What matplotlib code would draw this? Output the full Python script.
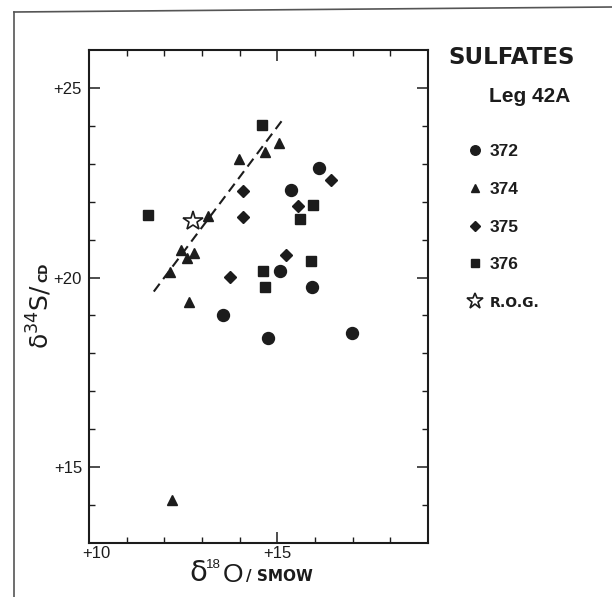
import matplotlib
matplotlib.use("Agg")
import matplotlib.pyplot as plt
from matplotlib.lines import Line2D
from matplotlib.transforms import ScaledTranslation

# valeurs (delta 18O, delta 34S)
site372_x = [16.11, 15.36, 15.06, 15.92, 13.57, 14.76, 16.99]
site372_y = [22.88, 22.30, 20.17, 19.76, 19.00, 18.40, 18.53]

site374_x = [15.04, 14.66, 13.98, 13.15, 12.45, 12.59, 12.80, 12.16, 12.66, 12.20]
site374_y = [23.56, 23.32, 23.12, 21.63, 20.73, 20.51, 20.66, 20.14, 19.35, 14.13]

site375_x = [14.09, 14.09, 16.42, 15.55, 15.23, 13.75]
site375_y = [22.27, 21.59, 22.57, 21.88, 20.60, 20.01]

site376_x = [14.58, 11.57, 15.94, 15.61, 15.90, 14.63, 14.66]
site376_y = [24.03, 21.65, 21.90, 21.55, 20.44, 20.17, 19.74]

rog_x = [12.75]
rog_y = [21.50]

trend_x = [11.72, 15.17]
trend_y = [19.63, 24.20]

labels = ["372", "374", "375", "376", "R.O.G."]
ink = "#1c1c1c"

plt.rcParams['font.family'] = ['Liberation Sans', 'DejaVu Sans']
plt.rcParams['mathtext.default'] = 'regular'

fig = plt.figure(figsize=(6.12, 5.97), dpi=100)
ax = fig.add_axes([89/612, 1-543/597, (428-89)/612, (543-50)/597])

ax.plot(trend_x, trend_y, color=ink, lw=1.5, linestyle=(0, (4.7, 2.8)))
h1, = ax.plot(site372_x, site372_y, 'o', color=ink, ms=8.6, ls='none')
h2, = ax.plot(site374_x, site374_y, '^', color=ink, ms=7.8, ls='none')
h3, = ax.plot(site375_x, site375_y, 'D', color=ink, ms=6.6, ls='none')
h4, = ax.plot(site376_x, site376_y, 's', color=ink, ms=6.8, ls='none')
h5, = ax.plot(rog_x, rog_y, '*', mfc='white', mec=ink, mew=1.2, ms=15, ls='none')

ax.set_xlim(10, 19)
ax.set_ylim(13, 26)
ax.set_xticks([10, 15])
ax.set_xticklabels(["+10", "+15"])
ax.set_xticks(range(11, 19), minor=True)
ax.set_yticks([15, 20, 25])
ax.set_yticklabels(["+15", "+20", "+25"])
ax.set_yticks(range(14, 26), minor=True)
ax.tick_params(which='both', direction='in', top=True, right=True, color=ink,
               labelcolor=ink, labelsize=12)
ax.tick_params(which='major', length=8, width=1.1)
ax.tick_params(which='minor', length=4, width=1.0)
ax.tick_params(axis='x', pad=2)
ax.tick_params(axis='y', pad=5)
lab10 = ax.get_xticklabels()[0]
lab10.set_transform(lab10.get_transform() + ScaledTranslation(7/100, 0, fig.dpi_scale_trans))
for t in ax.get_xticklabels() + ax.get_yticklabels():
    t.set_fontweight('medium')
for s in ax.spines.values():
    s.set_linewidth(1.5)
    s.set_color(ink)

# titres des axes
fig.text(189/612, 1-573/597, r'$\delta$', fontsize=21, color=ink, va='center', ha='left',
         family='DejaVu Sans')
fig.text(206/612, 1-565/597, '18', fontsize=9.5, color=ink, va='center', ha='left')
fig.text(223/612, 1-575/597, 'O', fontsize=19, color=ink, va='center', ha='left')
fig.text(246/612, 1-576/597, '/ SMOW', fontsize=11, fontweight='bold', color=ink,
         va='center', ha='left', family=['Liberation Sans Narrow', 'DejaVu Sans'])
fig.text(40/612, 1-284/597, r'$\delta^{34}$S/', fontsize=18, rotation=90, color=ink,
         va='top', ha='center', family='DejaVu Sans')
fig.text(44/612, 1-282/597, 'CD', fontsize=9, fontweight='bold', rotation=90, color=ink,
         va='bottom', ha='center', family=['Liberation Sans Narrow', 'DejaVu Sans'])

# légende
fig.text(448/612, 1-58/597, 'SULFATES', fontsize=16.5, fontweight='bold', color=ink,
         va='center', ha='left', family='DejaVu Sans')
fig.text(489/612, 1-97/597, 'Leg 42A', fontsize=15, fontweight='bold', color=ink,
         va='center', ha='left')
leg = fig.legend([h1, h2, h3, h4, h5], labels, loc='upper left',
                 bbox_to_anchor=(466/612, 1-144/597), frameon=False,
                 borderpad=0, borderaxespad=0, handlelength=1.0, handletextpad=0.35,
                 labelspacing=1.3, markerscale=0.8,
                 prop={'size': 12.5, 'weight': 'bold'})
for t in leg.get_texts():
    t.set_color(ink)
leg.get_texts()[4].set_fontfamily(['Liberation Sans Narrow', 'DejaVu Sans'])
leg.get_texts()[4].set_fontsize(10)

# cadre extérieur
fig.add_artist(Line2D([14/612, 14/612], [1-12/597, 0], transform=fig.transFigure,
                      color='#555555', lw=1.2))
fig.add_artist(Line2D([14/612, 1], [1-12/597, 1-7/597], transform=fig.transFigure,
                      color='#555555', lw=1.2))

fig.savefig("out.png", dpi=100, facecolor='white')
